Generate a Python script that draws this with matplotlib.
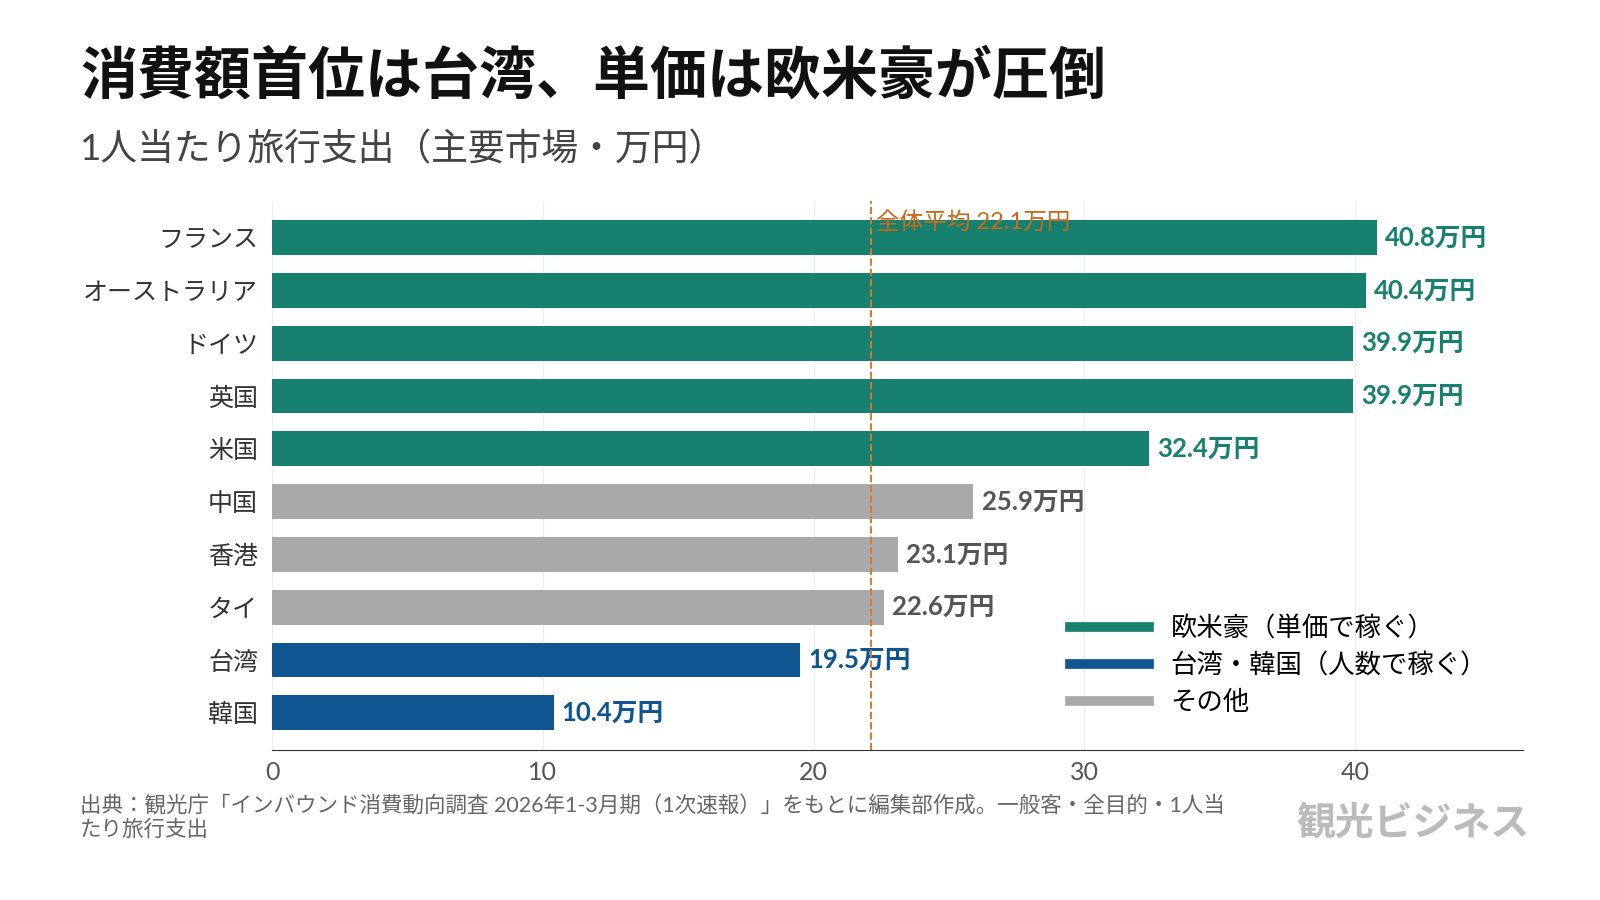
import matplotlib.pyplot as plt
from matplotlib.lines import Line2D

plt.rcParams['font.family'] = ['Lato', 'Noto Sans CJK JP', 'DejaVu Sans']

countries = ["フランス", "オーストラリア", "ドイツ", "英国", "米国", "中国", "香港", "タイ", "台湾", "韓国"]
spend = [40.8, 40.4, 39.9, 39.9, 32.4, 25.9, 23.1, 22.6, 19.5, 10.4]
groups = ["west", "west", "west", "west", "west", "other", "other", "other", "asia", "asia"]
average = 22.1

colors = {"west": "#17806f", "asia": "#0e5592", "other": "#a9a9a9"}
label_colors = {"west": "#17806f", "asia": "#0e5592", "other": "#555555"}
legend_labels = {"west": "欧米豪（単価で稼ぐ）", "asia": "台湾・韓国（人数で稼ぐ）", "other": "その他"}

fig = plt.figure(figsize=(16, 9), dpi=100)
ax = fig.add_axes([0.170, 0.167, 0.782, 0.610])

y = list(range(len(countries)))
ax.barh(y, spend, height=0.66, color=[colors[g] for g in groups], zorder=2)
for yi, v, g in zip(y, spend, groups):
    ax.text(v + 0.3, yi, f"{v}万円", va="center", ha="left", fontsize=18.5,
            fontweight="bold", color=label_colors[g], zorder=3)

ax.axvline(average, color="#d9792a", linestyle="--", linewidth=1.4, zorder=4)
ax.text(average + 0.2, -0.3, f"全体平均 {average}万円", color="#c86a1a", fontsize=17,
        ha="left", va="center", zorder=4)

ax.set_ylim(len(countries) - 0.3, -0.7)
ax.set_xlim(0, 46.2)
ax.set_yticks(y)
ax.set_yticklabels(countries, fontsize=18, color="#333333")
ax.set_xticks([0, 10, 20, 30, 40])
ax.tick_params(axis="x", labelsize=18, colors="#555555", length=0, pad=8)
ax.tick_params(axis="y", length=0, pad=10)
ax.grid(axis="x", color="#eeeeee", linewidth=1, zorder=0)
for s in ["top", "right", "left"]:
    ax.spines[s].set_visible(False)
ax.spines["bottom"].set_color("#333333")

handles = [Line2D([0], [0], color=colors[k], linewidth=7) for k in ["west", "asia", "other"]]
ax.legend(handles, [legend_labels[k] for k in ["west", "asia", "other"]],
          loc="lower right", bbox_to_anchor=(0.99, 0.02), frameon=False,
          handlelength=3, labelspacing=0.45, prop={'size': 19})

fig.text(0.05, 0.915, "消費額首位は台湾、単価は欧米豪が圧倒", fontsize=41, fontweight="bold",
         color="#111111", va="center")
fig.text(0.05, 0.835, "1人当たり旅行支出（主要市場・万円）", fontsize=26.5, color="#444444", va="center")
fig.text(0.05, 0.092, "出典：観光庁「インバウンド消費動向調査 2026年1-3月期（1次速報）」をもとに編集部作成。一般客・全目的・1人当\nたり旅行支出",
         fontsize=15.5, color="#666666", va="center", linespacing=1.3)
fig.text(0.956, 0.087, "観光ビジネス", fontsize=28, fontweight="bold", color="#bbbbbb",
         ha="right", va="center")

fig.savefig("out.png", dpi=100, facecolor="white")
